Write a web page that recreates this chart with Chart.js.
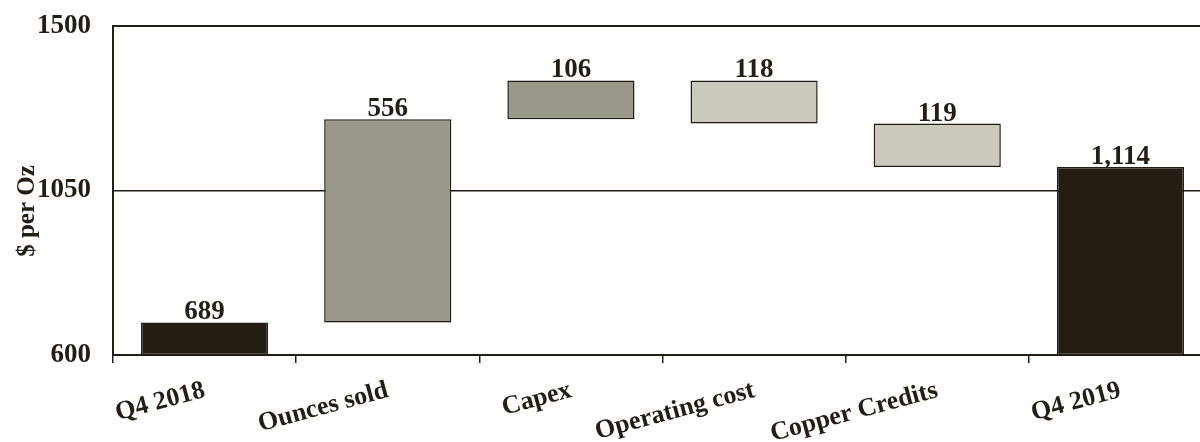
<!DOCTYPE html>
<html>
<head>
<meta charset="utf-8">
<script src="https://cdn.jsdelivr.net/npm/chart.js@4.4.1/dist/chart.umd.min.js"></script>
<style>
  html, body { margin: 0; padding: 0; background: #fff; overflow: hidden; }
  #wrap { width: 1200px; height: 442px; overflow: hidden; }
</style>
</head>
<body>
<div id="wrap"><canvas id="chart-waterfall" width="1212" height="442"></canvas></div>
<script>
const categories = ["Q4 2018", "Ounces sold", "Capex", "Operating cost", "Copper Credits", "Q4 2019"]
const startValue = 689
const changes = [556, 106, -118, -119]
const endValue = 1114
const yTicks = [600, 1050, 1500]

const INK = "#231d14"
const FONT = "'Liberation Serif', 'Times New Roman', serif"

// floating ranges for each bar, built up from the running total
const ranges = [[600, startValue]]
let running = startValue
changes.forEach((change) => {
    const next = running + change
    ranges.push([Math.min(running, next), Math.max(running, next)])
    running = next
})
ranges.push([600, endValue])

const valueLabels = [startValue, ...changes.map((c) => Math.abs(c)), endValue]
    .map((v) => v.toLocaleString("en-US"))

const fills = [INK, "#9a988b", "#9a988b", "#cbc9be", "#cbc9be", INK]
const borders = [INK, INK, INK, INK, INK, INK]

// soft drop shadow under the boxes
const shadowPlugin = {
    id: "shadow",
    beforeDatasetsDraw(chart) {
        const ctx = chart.ctx
        ctx.save()
        ctx.shadowColor = "rgba(0,0,0,0.10)"
        ctx.shadowBlur = 8
        ctx.shadowOffsetY = 6
    },
    afterDatasetsDraw(chart) {
        chart.ctx.restore()
    }
}

// amounts printed above each bar, plus the rotated y title
const labelsPlugin = {
    id: "valueLabels",
    afterDraw(chart) {
        const ctx = chart.ctx
        const meta = chart.getDatasetMeta(0)
        ctx.save()
        ctx.fillStyle = INK
        ctx.font = `bold 27px ${FONT}`
        ctx.textAlign = "center"
        ctx.textBaseline = "alphabetic"
        meta.data.forEach((bar, i) => {
            ctx.fillText(valueLabels[i], bar.x, bar.y - 3)
        })
        ctx.translate(28, 211)
        ctx.rotate(-Math.PI / 2)
        ctx.textBaseline = "middle"
        ctx.font = `bold 25px ${FONT}`
        ctx.fillText("$ per Oz", 0, 0)
        ctx.restore()
    }
}

new Chart(document.getElementById("chart-waterfall"), {
    type: "bar",
    data: {
        labels: categories,
        datasets: [{
            data: ranges,
            backgroundColor: fills,
            borderColor: borders,
            borderWidth: 1.5,
            borderSkipped: false,
            barPercentage: 0.694,
            categoryPercentage: 1
        }]
    },
    options: {
        responsive: false,
        animation: false,
        layout: {
            padding: { left: 38, top: 0, right: 0, bottom: 0 }
        },
        plugins: {
            legend: { display: false },
            tooltip: { enabled: false }
        },
        scales: {
            x: {
                afterFit(axis) {
                    axis.height = 87
                },
                grid: {
                    offset: true,
                    drawOnChartArea: false,
                    drawTicks: true,
                    tickLength: 8,
                    color: INK,
                    lineWidth: 1.5
                },
                border: { color: INK, width: 2 },
                ticks: {
                    color: INK,
                    font: { family: FONT, size: 26, weight: "bold" },
                    minRotation: 15,
                    maxRotation: 15,
                    padding: 12,
                    autoSkip: false
                }
            },
            y: {
                min: 600,
                max: 1500,
                afterFit(axis) {
                    axis.width = 75
                    axis.paddingTop = 26
                    axis.paddingBottom = 0
                },
                afterBuildTicks(axis) {
                    axis.ticks = yTicks.map((v) => ({ value: v }))
                },
                grid: {
                    drawTicks: false,
                    color: INK,
                    lineWidth: (ctx) => ctx.tick && ctx.tick.value === 1050 ? 1.5 : 2
                },
                border: { color: INK, width: 2 },
                ticks: {
                    color: INK,
                    font: { family: FONT, size: 27, weight: "bold" },
                    padding: 22,
                    callback: (value) => String(value)
                }
            }
        }
    },
    plugins: [shadowPlugin, labelsPlugin]
})
</script>
</body>
</html>
